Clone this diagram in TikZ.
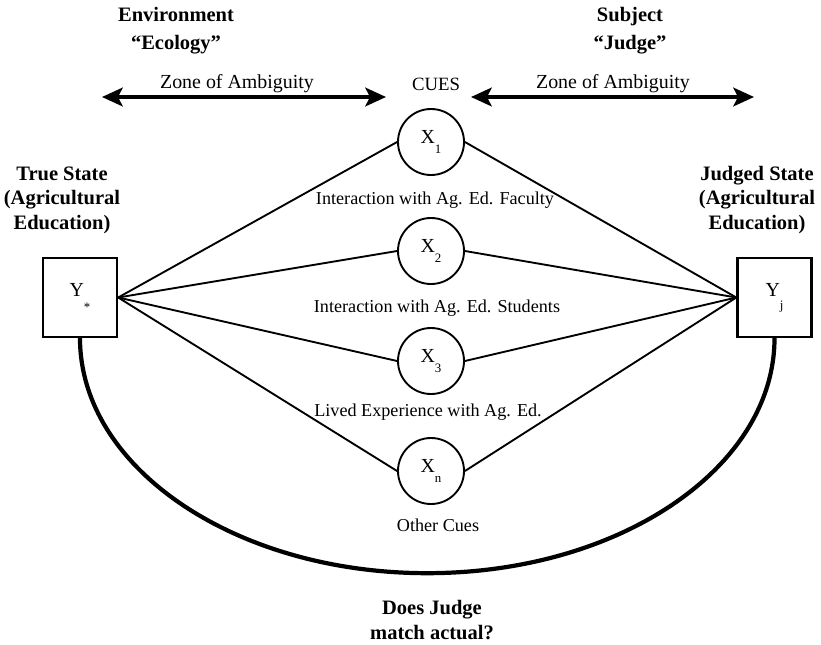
\documentclass[tikz,border=0pt]{standalone}
\usepackage{fontspec}
\setmainfont{Liberation Serif}
\usetikzlibrary{arrows.meta}
\def\sub#1#2{\raisebox{#1}{\fontsize{11}{11}\selectfont #2}}

\begin{document}
\begin{tikzpicture}[x=0.03cm,y=-0.03cm,
		cue/.style={draw, circle, line width=1.6pt, minimum size=1.98cm, inner sep=0pt, font=\fontsize{17}{18}\selectfont},
		state/.style={draw, line width=2pt, minimum width=2.22cm, minimum height=2.37cm, inner sep=0pt, font=\fontsize{17}{18}\selectfont},
		head/.style={font=\fontsize{17.5}{21}\selectfont\bfseries, align=center},
		lbl/.style={font=\fontsize{15.5}{18}\selectfont},
		zone/.style={line width=3pt, {Stealth[length=0.62cm,width=0.56cm,inset=0.14cm]}-{Stealth[length=0.62cm,width=0.56cm,inset=0.14cm]}},
		link/.style={line width=1.6pt}]
			%%%%% START %%%%%
			
			\useasboundingbox (0,0) rectangle (821,644);
			
			\node[head, font=\fontsize{17.5}{24}\selectfont\bfseries] (env) at (176,31) {Environment\\“Ecology”};
			\node[head, font=\fontsize{17.5}{24}\selectfont\bfseries] (subj) at (630,31) {Subject\\“Judge”};
			
			\coordinate (za1) at (102,97);
			\coordinate (za2) at (386,97);
			\coordinate (zb1) at (471,97);
			\coordinate (zb2) at (754,97);
			\draw[zone] (za1) -- (za2);
			\draw[zone] (zb1) -- (zb2);
			\node[lbl, font=\fontsize{17}{20}\selectfont] (zonea) at (237,84) {Zone of Ambiguity};
			\node[lbl, font=\fontsize{17}{20}\selectfont] (zoneb) at (613,84) {Zone of Ambiguity};
			\node[lbl, font=\fontsize{16}{20}\selectfont] (cues) at (436,84) {CUES};
			
			\node[cue] (x1) at (431,142) {X\sub{-8pt}{1}};
			\node[cue] (x2) at (431,251) {X\sub{-8pt}{2}};
			\node[cue] (x3) at (431,361) {X\sub{-8pt}{3}};
			\node[cue] (xn) at (431,471) {X\sub{-8pt}{n}};
			
			\node[lbl] (fac) at (435,200) {Interaction with Ag. Ed. Faculty};
			\node[lbl] (stu) at (437,308) {Interaction with Ag. Ed. Students};
			\node[lbl] (liv) at (428,412) {Lived Experience with Ag. Ed.};
			\node[lbl] (oth) at (438,525) {Other Cues};
			
			\node[state] (ys) at (80,297.5) {Y\sub{-13pt}{*}};
			\node[state] (yj) at (774.5,297.5) {Y\sub{-11pt}{j}};
			
			\node[head] (ts) at (62,200) {True State\\(Agricultural\\Education)};
			\node[head] (js) at (757,200) {Judged State\\(Agricultural\\Education)};
			
			\foreach \c in {x1,x2,x3,xn}{
				\draw[link] (ys.east) -- (\c.west);
				\draw[link] (\c.east) -- (yj.west);
			}
			
			\draw[line width=3.6pt] (ys.south) arc (180:0:347.25 and 235);
			
			\node[head] (match) at (432,620) {Does Judge\\match actual?};
			
			%%%%% END %%%%%
\end{tikzpicture}
\end{document}
